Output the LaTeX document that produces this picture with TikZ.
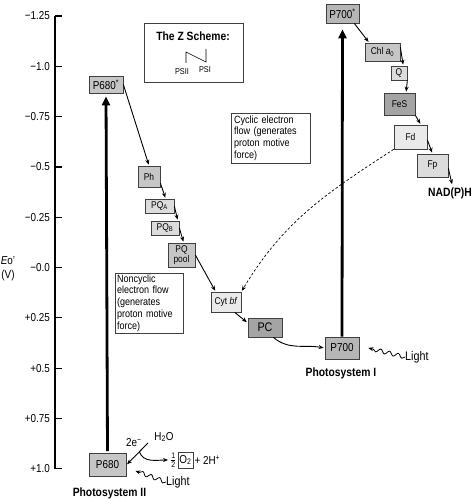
\documentclass[tikz,border=0pt]{standalone}
\usepackage{amsmath}
\usepackage{fontspec}
\setmainfont{Liberation Sans}[FakeStretch=0.86]
\usetikzlibrary{arrows.meta,positioning,decorations.pathmorphing,calc}
\definecolor{carrier}{HTML}{C6C6C6}
\definecolor{carrierlt}{HTML}{DCDCDC}
\definecolor{carrierpale}{HTML}{EAEAEA}
\definecolor{carrierdk}{HTML}{A4A4A4}

\begin{document}
\begin{tikzpicture}[x=1pt, y=1pt,
  box/.style={draw=black!75, line width=0.7pt, inner sep=1pt, font=\fontsize{9.8}{11}\selectfont},
  arr/.style={-{Stealth[length=5pt,width=4pt]}, line width=0.9pt, shorten >=1pt},
  pump/.style={-{Triangle[length=9pt,width=8pt]}, line width=2.8pt},
  note/.style={draw=black!75, line width=0.7pt, align=left, inner xsep=2pt, inner ysep=1pt, font=\fontsize{10.5}{11.8}\selectfont},
  title/.style={font=\bfseries\fontsize{12}{13}\selectfont},
  wave/.style={decorate, decoration={snake, amplitude=2pt, segment length=9pt, post length=4pt}, -{Stealth[length=5pt,width=4pt]}, line width=0.8pt}]
\useasboundingbox (0,0) rectangle (473,-500);

% energy axis
\draw[line width=1.2pt] (55,-16) -- (55,-469);
\foreach \i/\lab in {0/−1.25, 1/−1.0, 2/−0.75, 3/−0.5, 4/−0.25, 5/−0.0, 6/+0.25, 7/+0.5, 8/+0.75, 9/+1.0} {
  \draw[line width=1.2pt] (55,{-16-50.3*\i}) -- ++(7,0);
  \node[anchor=east, inner sep=0pt, font=\fontsize{11.5}{13}\selectfont] (t\i) at (50,{-16-50.3*\i}) {\lab};
}
\node[align=center, inner sep=0pt, font=\fontsize{11.5}{14}\selectfont] (eaxis) at (8,-269) {\textit{E}o'\\(V)};

% Z scheme legend
\node[draw=black!75, line width=0.7pt, minimum width=99, minimum height=59] (zbox) at (193.5,-52.5) {};
\node[title] (ztitle) at (193,-36) {The Z Scheme:};
\draw[line width=0.6pt] (186,-63) -- (186,-52) -- (206,-62) -- (206,-49);
\node[font=\fontsize{8.5}{9}\selectfont, inner sep=0pt] (zpsii) at (182,-72) {PSII};
\node[font=\fontsize{8.5}{9}\selectfont, inner sep=0pt] (zpsi) at (205,-70) {PSI};

% photosystem II side
\node[box, fill=carrier, minimum width=37, minimum height=23, font=\fontsize{11.5}{13}\selectfont] (p680) at (107.5,-465) {P680};
\node[box, fill=carrier, minimum width=34, minimum height=17, font=\fontsize{11.5}{13}\selectfont] (p680s) at (106,-84.5) {P680\textsuperscript{*}};
\node[box, fill=carrier, minimum width=22, minimum height=21] (ph) at (149,-176.5) {Ph};
\node[box, fill=carrierlt, minimum width=29, minimum height=14] (pqa) at (159.5,-206) {PQ\textsubscript{A}};
\node[box, fill=carrierlt, minimum width=28, minimum height=14] (pqb) at (165,-228) {PQ\textsubscript{B}};
\node[box, fill=carrier, minimum width=27, minimum height=24, align=center, font=\fontsize{9.8}{10.5}\selectfont] (pqpool) at (181.5,-255) {PQ\\pool};
\node[box, fill=carrierpale, minimum width=30, minimum height=20] (cyt) at (226,-302) {Cyt \textit{bf}};
\node[box, fill=carrierdk, minimum width=34, minimum height=19, font=\fontsize{12.5}{13}\selectfont] (pc) at (265,-327.5) {PC};
\node[title] (ps2) at (109.5,-493) {Photosystem II};

% photosystem I side
\node[box, fill=carrierdk!80!white, minimum width=34, minimum height=22, font=\fontsize{11.5}{13}\selectfont] (p700) at (342,-348) {P700};
\node[box, fill=carrierdk!80!white, minimum width=33, minimum height=19, font=\fontsize{11.5}{13}\selectfont] (p700s) at (342.5,-13.5) {P700\textsuperscript{*}};
\node[box, fill=carrier, minimum width=35, minimum height=18] (chl) at (382.5,-52) {Chl \textit{a}\textsubscript{0}};
\node[box, fill=carrierlt, minimum width=16, minimum height=14] (q) at (399,-73) {Q};
\node[box, fill=carrierdk, minimum width=31, minimum height=22] (fes) at (399.5,-104) {FeS};
\node[box, fill=carrierpale, minimum width=33, minimum height=24] (fd) at (410.5,-137) {Fd};
\node[box, fill=carrierlt, minimum width=31, minimum height=23] (fp) at (432.5,-165.5) {Fp};
\node[title, inner sep=1pt] (nadph) at (450,-193) {NAD(P)H};
\node[title] (ps1) at (341,-373) {Photosystem I};

% flow notes
\node[note, text width=64pt, minimum height=60] (noncyc) at (149,-303) {Noncyclic\\electron flow\\(generates\\proton motive\\force)};
\node[note, text width=73pt, inner xsep=3pt, minimum height=50] (cyc) at (270.5,-138) {Cyclic electron\\flow (generates\\proton motive\\force)};

% light excitation
\draw[pump, shorten <=2pt, shorten >=3pt] (p680.north) -- (p680s.south);
\draw[pump, shorten >=6pt] (p700.north) -- (p700s.south);

% electron transport chain
\draw[arr] (p680s.east) -- (ph.north);
\draw[arr] (ph.-30) -- (pqa.50);
\draw[arr] (pqa.east) -- (pqb.30);
\draw[arr] (pqb.east) -- (pqpool.80);
\draw[arr] (pqpool.east) -- (cyt.135);
\draw[arr] (cyt.-50) -- (pc.165);
\draw[arr] (pc.-50) to[out=-40, in=170] (p700.west);
\draw[arr] (p700s.-40) -- (chl.145);
\draw[arr] (chl.15) -- (q.60);
\draw[arr] (q.south east) -- (fes.60);
\draw[arr] (fes.south east) -- (fd.50);
\draw[arr] (fd.-10) -- (fp.north);
\draw[arr, shorten >=2pt] (fp.-10) -- (nadph.70);
\draw[arr, dash pattern=on 2.5pt off 2pt, line width=0.7pt] (fd.south west) to[out=213, in=59] (cyt.north east);

% water splitting
\node[font=\fontsize{11.5}{13}\selectfont, inner sep=0pt] (elec) at (134,-443) {2e\textsuperscript{−}};
\node[font=\fontsize{11.5}{13}\selectfont, inner sep=0pt] (h2o) at (164,-437) {H\textsubscript{2}O};
\coordinate (split) at (148,-443);
\draw[arr] (split) -- (p680.east);
\node[draw=black!75, line width=0.6pt, inner sep=1pt, minimum width=15, minimum height=16, font=\fontsize{11.5}{13}\selectfont] (otwo) at (185.5,-460) {O\textsubscript{2}};
\node[left=0pt of otwo, inner sep=1pt, font=\fontsize{11.5}{12}\selectfont] (half) {$\frac{\text{1}}{\text{2}}$};
\node[right=0pt of otwo, inner sep=1pt, font=\fontsize{11.5}{13}\selectfont] (hplus) {+ 2H\textsuperscript{+}};
\draw[arr] ($(split)!0.4!(p680.east)$) to[out=-70, in=180] (half.west);

% light
\node[font=\fontsize{12.5}{13}\selectfont, anchor=west, inner sep=0pt] (light2) at (166,-482) {Light};
\draw[wave] (light2.west) -- ($(p680.south east)+(9,6)$);
\node[font=\fontsize{12.5}{13}\selectfont, anchor=west, inner sep=0pt] (light1) at (405,-357) {Light};
\draw[wave] (light1.west) -- ($(p700.east)+(9,0)$);
\end{tikzpicture}
\end{document}
